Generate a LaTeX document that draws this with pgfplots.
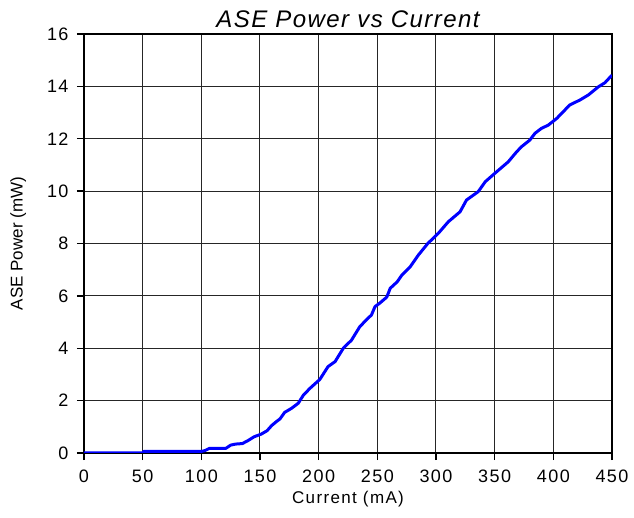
\documentclass[border=0pt]{standalone}
\usepackage{pgfplots}
\pgfplotsset{compat=1.18}
\usepackage{fontspec}
\setmainfont{Liberation Sans}
\newfontfamily\tickfont[LetterSpace=8]{Liberation Sans}
\newfontfamily\titlefont[LetterSpace=6]{Liberation Sans}
\begin{document}
\begin{tikzpicture}
\useasboundingbox (-84bp,-65bp) rectangle (550bp,453bp);
\begin{axis}[
  scale only axis,
  width=528bp, height=419bp,
  at={(0,0)}, anchor=south west,
  xmin=0, xmax=450, ymin=0, ymax=16,
  xtick={0,50,...,450}, ytick={0,2,...,16},
  tick pos=left,
  /pgf/number format/assume math mode=true,
  tick label style={font=\tickfont\fontsize{18bp}{21bp}\selectfont},
  xticklabel style={yshift=-6bp},
  yticklabel style={xshift=-5bp},
  tick align=outside,
  major tick length=7bp,
  every tick/.style={black, line width=1.3bp},
  axis line style={black, line width=2.8bp},
  grid=major,
  major grid style={black!85, line width=1bp},
  title={\titlefont\itshape\fontsize{24bp}{27bp}\selectfont ASE Power vs Current},
  title style={at={(0.5,1)}, anchor=south, yshift=-3bp},
  xlabel={\tickfont\fontsize{17bp}{20bp}\selectfont Current (mA)},
  xlabel style={yshift=-2bp},
  ylabel={\fontsize{17bp}{20bp}\selectfont ASE Power (mW)},
  ylabel style={yshift=14bp},
]
\addplot[blue, line width=3bp, line join=round] coordinates {
(0,0) (50,0) (51,0.06) (100,0.06) (103,0.09) (107,0.18) (121,0.18) (125,0.3)
(129,0.34) (135,0.36) (140,0.48) (145,0.62) (151,0.72) (156,0.85) (160,1.05)
(164,1.2) (167,1.3) (171,1.55) (177,1.71) (182.6,1.9) (187,2.21) (192.6,2.47)
(201,2.81) (208,3.3) (214,3.49) (221,4.0) (228,4.31) (235,4.82) (241,5.1)
(245,5.27) (248,5.59) (252,5.72) (258,5.95) (261,6.29) (267,6.54) (271,6.8)
(278,7.11) (285,7.56) (293,8.0) (302,8.39) (310.5,8.83) (320.5,9.21) (326,9.66)
(336,9.98) (342,10.36) (351.7,10.74) (361.6,11.12) (368.7,11.5) (373,11.7)
(380,11.95) (384.4,12.21) (390,12.40) (395.7,12.52) (403,12.78) (414,13.29)
(422.7,13.48) (429.8,13.67) (438.3,13.98) (444,14.14) (450,14.43)
};
\end{axis}
\end{tikzpicture}
\end{document}
